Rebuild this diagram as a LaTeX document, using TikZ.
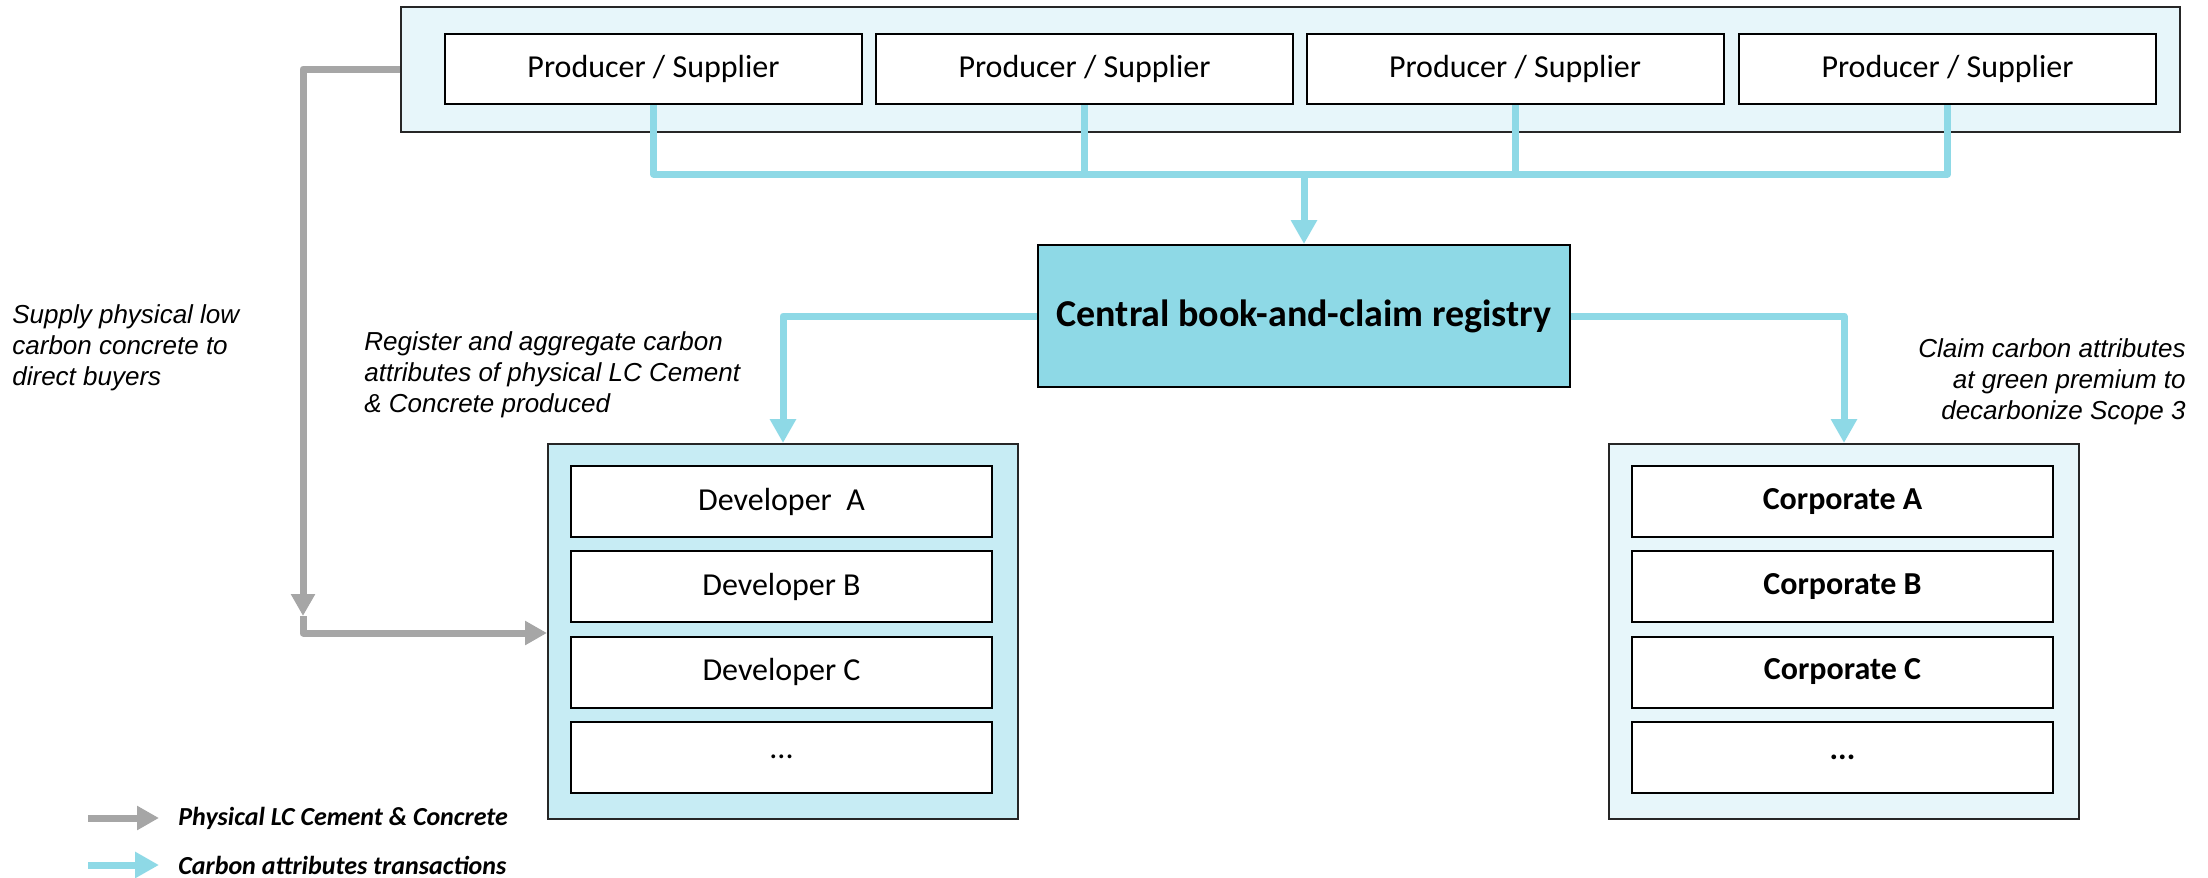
\documentclass[tikz,border=0pt]{standalone}
\usepackage{fontspec}
\setmainfont{Carlito}
\newfontfamily\arialfont{Liberation Sans}
\usetikzlibrary{arrows.meta}
\definecolor{attrblue}{HTML}{8ED9E6}
\definecolor{physgray}{HTML}{A6A6A6}
\definecolor{devfill}{HTML}{C7ECF4}
\definecolor{palefill}{HTML}{E7F6FA}
\begin{document}
\begin{tikzpicture}[x=0.5pt,y=-0.5pt,
  container/.style={draw=black!85,line width=1pt,inner sep=0pt},
  itembox/.style={draw=black,line width=1pt,fill=white,inner sep=0pt,
    minimum width=210.5pt,minimum height=35.5pt,font=\fontsize{16}{19}\selectfont},
  prodbox/.style={itembox,minimum width=208.5pt,minimum height=35pt},
  note/.style={inner sep=0pt,font=\arialfont\itshape\fontsize{13}{15.5}\selectfont},
  legendtext/.style={inner sep=0pt,anchor=west,font=\bfseries\itshape\fontsize{13}{15}\selectfont},
  attrline/.style={draw=attrblue,line width=3.5pt,line join=round},
  attrarrow/.style={attrline,-{Triangle[width=12.5pt,length=12pt]}},
  physline/.style={draw=physgray,line width=3.5pt,line join=round},
  physarrow/.style={physline,-{Triangle[width=11.5pt,length=11pt]}}]
\useasboundingbox (0,0) rectangle (2208,878);

% producers
\node[container,fill=palefill,minimum width=889.5pt,minimum height=62.5pt] (top) at (1290.5,69.5) {};
\node[prodbox] (p1) at (653.5,69) {Producer / Supplier};
\node[prodbox] (p2) at (1084.5,69) {Producer / Supplier};
\node[prodbox] (p3) at (1515,69) {Producer / Supplier};
\node[prodbox] (p4) at (1947.5,69) {Producer / Supplier};

% registry
\node[draw=black,line width=1pt,fill=attrblue,minimum width=266pt,minimum height=71pt,inner sep=0pt,
  font=\bfseries\fontsize{19}{22}\selectfont] (reg) at (1304,316) {Central book-and-claim registry};

% developers
\node[container,fill=devfill,minimum width=235pt,minimum height=187.5pt] (dev) at (783,631.5) {};
\node[itembox] (d1) at (781.5,501.5) {Developer~~A};
\node[itembox] (d2) at (781.5,586.5) {Developer B};
\node[itembox] (d3) at (781.5,672) {Developer C};
\node[itembox] (d4) at (781.5,757) {...};

% corporates
\node[container,fill=palefill,minimum width=235pt,minimum height=187.5pt] (corp) at (1844,631.5) {};
\node[itembox,font=\bfseries\fontsize{16}{19}\selectfont] (c1) at (1842.5,501.5) {Corporate A};
\node[itembox,font=\bfseries\fontsize{16}{19}\selectfont] (c2) at (1842.5,586.5) {Corporate B};
\node[itembox,font=\bfseries\fontsize{16}{19}\selectfont] (c3) at (1842.5,672) {Corporate C};
\node[itembox,font=\bfseries\fontsize{16}{19}\selectfont] (c4) at (1842.5,757) {...};

% carbon attribute flows
\coordinate (busl) at (653.5,174);
\coordinate (busr) at (1947.5,174);
\coordinate (busm) at (1304,174);
\draw[attrline] (p1.south) -- (busl) -- (busr) -- (p4.south);
\draw[attrline] (p2.south) -- (p2.south |- busl);
\draw[attrline] (p3.south) -- (p3.south |- busl);
\draw[attrarrow] (busm) -- (reg.north);
\draw[attrarrow] (reg.west) -| (dev.north);
\draw[attrarrow] (reg.east) -| (corp.north);

% physical supply
\coordinate (gtop) at (303,69);
\coordinate (gdown) at (303,616);
\coordinate (gcorner) at (303,633);
\draw[physarrow] (top.west |- gtop) -- (gtop) -- (gdown);
\draw[physarrow] (gdown) -- (gcorner) -- (dev.west |- gcorner);

% annotations
\node[note,anchor=north west,align=left] (n1) at (12,304)
  {Supply physical low\\carbon concrete to\\direct buyers};
\node[note,anchor=north west,align=left] (n2) at (364,331)
  {Register and aggregate carbon\\attributes of physical LC Cement\\\& Concrete produced};
\node[note,anchor=north east,align=right] (n3) at (2186,338)
  {Claim carbon attributes\\at green premium to\\decarbonize Scope 3};

% legend
\coordinate (lg1) at (88,818);
\coordinate (lg2) at (159,818);
\coordinate (lb1) at (88,865);
\coordinate (lb2) at (159,865);
\draw[physarrow] (lg1) -- (lg2);
\draw[attrarrow] (lb1) -- (lb2);
\node[legendtext] (t1) at (178,818) {Physical LC Cement \& Concrete};
\node[legendtext] (t2) at (178,865) {Carbon attributes transactions};
\end{tikzpicture}
\end{document}
